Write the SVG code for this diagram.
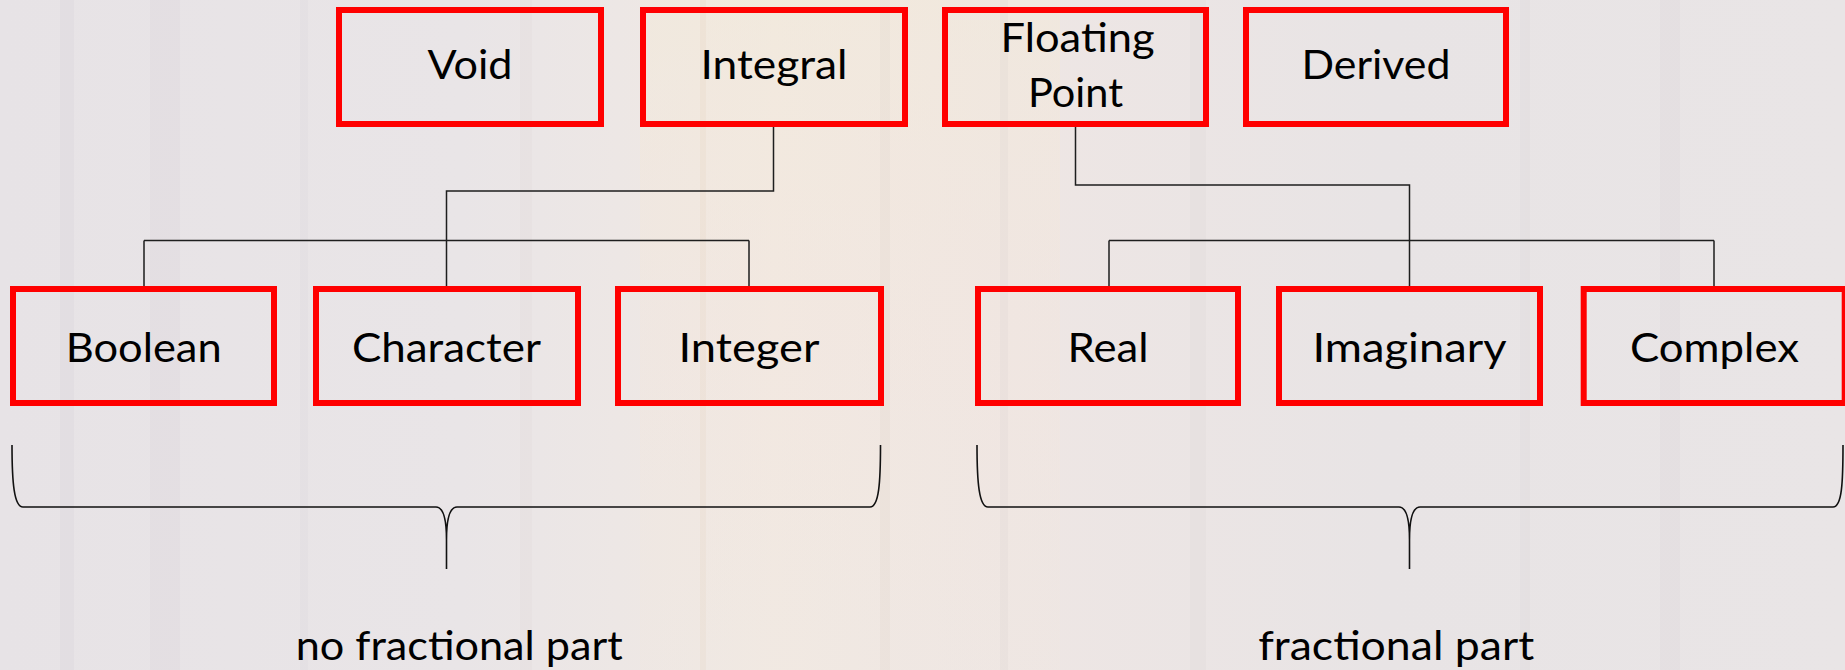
<svg xmlns="http://www.w3.org/2000/svg" width="1845" height="670" viewBox="0 0 1845 670">
  <defs>
    <linearGradient id="bg" x1="0" y1="0" x2="1" y2="0">
      <stop offset="0" stop-color="#e7e3e6"/>
      <stop offset="0.25" stop-color="#e9e5e7"/>
      <stop offset="0.42" stop-color="#f1e9e3"/>
      <stop offset="0.55" stop-color="#eee6e4"/>
      <stop offset="0.75" stop-color="#e8e4e5"/>
      <stop offset="1" stop-color="#e9e5e6"/>
    </linearGradient>
    <linearGradient id="warm" x1="0" y1="0" x2="0" y2="1">
      <stop offset="0" stop-color="#f3ead8" stop-opacity="0.5"/>
      <stop offset="0.5" stop-color="#f4e6dc" stop-opacity="0.35"/>
      <stop offset="1" stop-color="#f0e8e0" stop-opacity="0.3"/>
    </linearGradient>
  </defs>
  <style>
    .box { fill: none; stroke: #ff0000; stroke-width: 6; }
    .lbl { font-family: Lato, "Open Sans", "Liberation Sans", sans-serif; font-size: 40px; fill: #000000; text-anchor: middle; }
    .conn { fill: none; stroke: #1e1e1e; stroke-width: 1.5; }
    .brace { fill: none; stroke: #111111; stroke-width: 1.6; }
  </style>

  <rect x="0" y="0" width="1845" height="670" fill="url(#bg)"/>
  <rect x="640" y="0" width="420" height="670" fill="url(#warm)"/>
  <g opacity="0.15">
    <rect x="60" y="0" width="14" height="670" fill="#c9c3cf"/>
    <rect x="150" y="0" width="30" height="670" fill="#d0c8cf"/>
    <rect x="300" y="0" width="8" height="670" fill="#cfc6d6"/>
    <rect x="520" y="0" width="12" height="670" fill="#d8ccd0"/>
    <rect x="700" y="0" width="6" height="670" fill="#e0c8b0"/>
    <rect x="880" y="0" width="10" height="670" fill="#d6c9c0"/>
    <rect x="1000" y="0" width="8" height="670" fill="#d0c8c8"/>
    <rect x="1190" y="0" width="16" height="670" fill="#cdc6cc"/>
    <rect x="1520" y="0" width="10" height="670" fill="#d2cacd"/>
    <rect x="1660" y="0" width="20" height="670" fill="#d0c9cc"/>
  </g>

  <g id="connectors">
    <path class="conn" d="M773.5,127 V191 H446.5 V286"/>
    <path class="conn" d="M144,240.5 H749 M144,240.5 V286 M749,240.5 V286"/>
    <path class="conn" d="M1075.5,127 V185 H1409.5 V286"/>
    <path class="conn" d="M1109,240.5 H1714 M1109,240.5 V286 M1714,240.5 V286"/>
  </g>

  <g id="node-void">
    <rect class="box" x="339" y="10" width="262" height="114"/>
    <text class="lbl" x="470" y="79" textLength="85" lengthAdjust="spacingAndGlyphs">Void</text>
  </g>
  <g id="node-integral">
    <rect class="box" x="643" y="10" width="262" height="114"/>
    <text class="lbl" x="774" y="79" textLength="147" lengthAdjust="spacingAndGlyphs">Integral</text>
  </g>
  <g id="node-floating-point">
    <rect class="box" x="945" y="10" width="261" height="114"/>
    <text class="lbl" x="1077.5" y="51.7" textLength="154" lengthAdjust="spacingAndGlyphs">Floating</text>
    <text class="lbl" x="1075.5" y="107.3" textLength="95" lengthAdjust="spacingAndGlyphs">Point</text>
  </g>
  <g id="node-derived">
    <rect class="box" x="1246" y="10" width="260" height="114"/>
    <text class="lbl" x="1376" y="79" textLength="149" lengthAdjust="spacingAndGlyphs">Derived</text>
  </g>

  <g id="node-boolean">
    <rect class="box" x="13" y="289" width="261" height="114"/>
    <text class="lbl" x="143.7" y="361.7" textLength="156" lengthAdjust="spacingAndGlyphs">Boolean</text>
  </g>
  <g id="node-character">
    <rect class="box" x="316" y="289" width="262" height="114"/>
    <text class="lbl" x="446.4" y="361.7" textLength="189" lengthAdjust="spacingAndGlyphs">Character</text>
  </g>
  <g id="node-integer">
    <rect class="box" x="618" y="289" width="263" height="114"/>
    <text class="lbl" x="749" y="361.7" textLength="141" lengthAdjust="spacingAndGlyphs">Integer</text>
  </g>
  <g id="node-real">
    <rect class="box" x="978" y="289" width="260" height="114"/>
    <text class="lbl" x="1108" y="361.7" textLength="81" lengthAdjust="spacingAndGlyphs">Real</text>
  </g>
  <g id="node-imaginary">
    <rect class="box" x="1279" y="289" width="261" height="114"/>
    <text class="lbl" x="1409.5" y="361.7" textLength="194" lengthAdjust="spacingAndGlyphs">Imaginary</text>
  </g>
  <g id="node-complex">
    <rect class="box" x="1583.7" y="289" width="261" height="114"/>
    <text class="lbl" x="1714.5" y="361.7" textLength="169" lengthAdjust="spacingAndGlyphs">Complex</text>
  </g>

  <g id="brace-left">
    <path class="brace" d="M12,445 C12,482 14,507 23,507 H436 C442,507 446.5,515 446.5,540 V569 M446.5,540 C446.5,515 451,507 457,507 H870 C879,507 880.5,482 880.5,445"/>
    <text class="lbl" x="459.2" y="660" textLength="327" lengthAdjust="spacingAndGlyphs">no fractional part</text>
  </g>
  <g id="brace-right">
    <path class="brace" d="M977,445 C977,482 979,507 988,507 H1399 C1405,507 1409.5,515 1409.5,540 V569 M1409.5,540 C1409.5,515 1414,507 1420,507 H1833 C1842,507 1843,482 1843,445"/>
    <text class="lbl" x="1396.2" y="660" textLength="276" lengthAdjust="spacingAndGlyphs">fractional part</text>
  </g>
</svg>
